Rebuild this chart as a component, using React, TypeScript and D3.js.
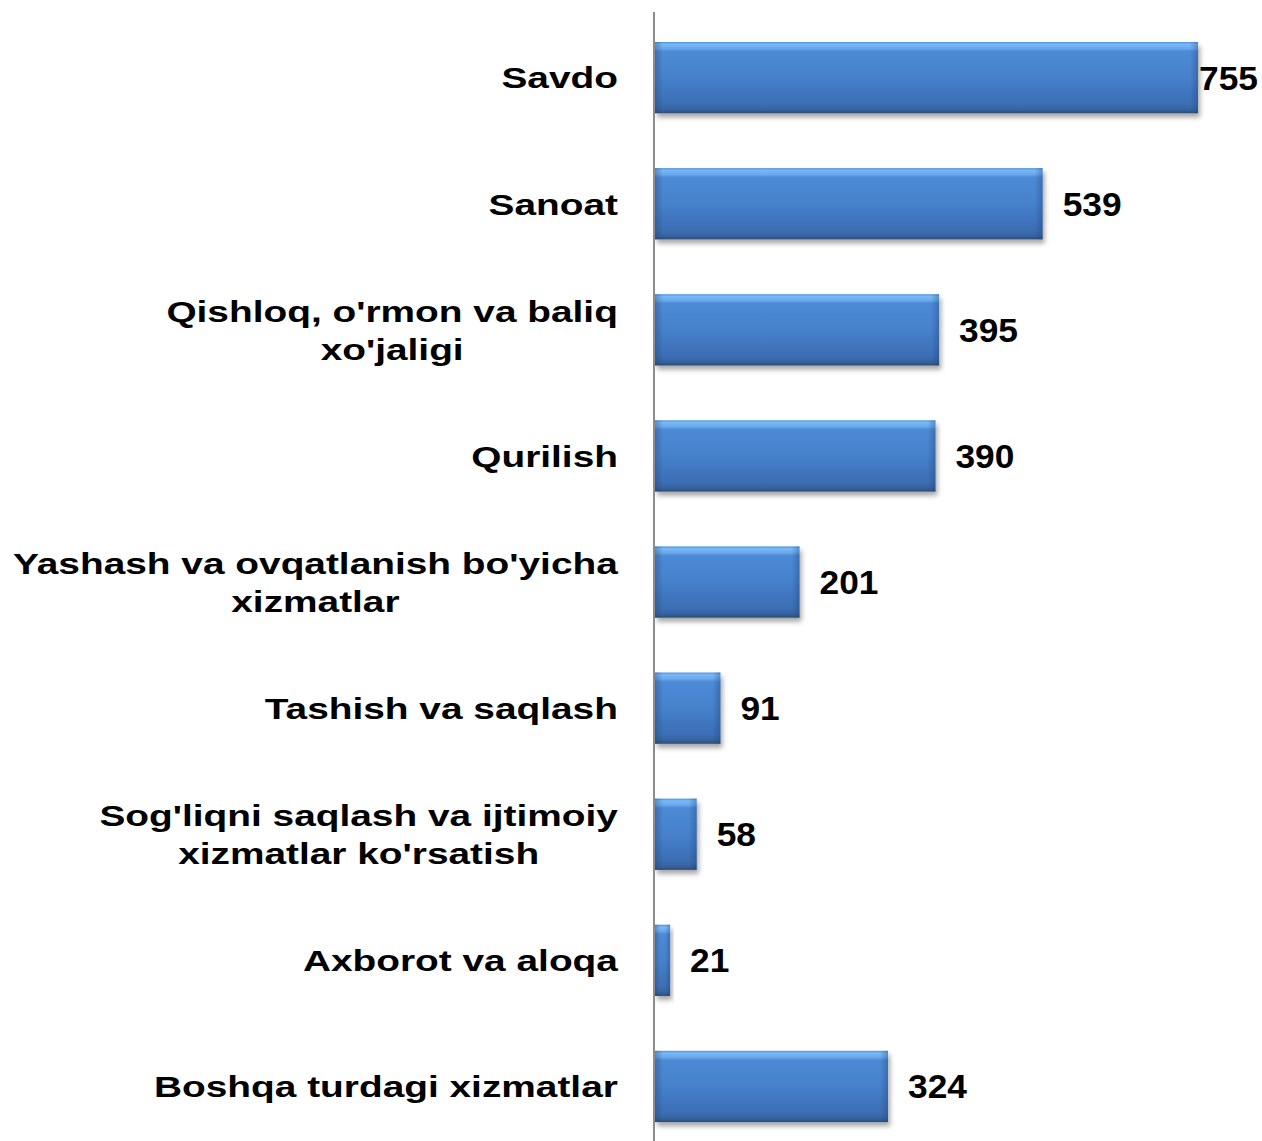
import React, { useEffect, useRef } from 'react';
import * as d3 from 'd3';

const categories = [
  ["Savdo"],
  ["Sanoat"],
  ["Qishloq, o'rmon va baliq", "xo'jaligi"],
  ["Qurilish"],
  ["Yashash va ovqatlanish bo'yicha", "xizmatlar"],
  ["Tashish va saqlash"],
  ["Sog'liqni saqlash va ijtimoiy", "xizmatlar ko'rsatish"],
  ["Axborot va aloqa"],
  ["Boshqa turdagi xizmatlar"],
];
const values = [755, 539, 395, 390, 201, 91, 58, 21, 324];

const W = 1262;
const H = 1141;
const axisX = 655;
const labelRight = 618;
const stretch = 1.295;
const numStretch = 1.07;

const App = () => {
  const ref = useRef<SVGSVGElement>(null);

  useEffect(() => {
    const svg = d3.select(ref.current);
    svg.selectAll('*').remove();

    const idx = values.map((_, i) => i);
    const y = d3.scaleBand<number>()
      .domain(idx)
      .range([14.6, 1149.5])
      .paddingInner(0.435)
      .paddingOuter(0.2175);
    const x = d3.scaleLinear().domain([0, d3.max(values)!]).range([axisX, 1198]);

    const defs = svg.append('defs');
    const grad = defs.append('linearGradient')
      .attr('id', 'barGrad').attr('x1', 0).attr('y1', 0).attr('x2', 0).attr('y2', 1);
    [
      [0, '#4f8fdc'], [0.03, '#79b9f6'], [0.09, '#6aa8ec'], [0.13, '#4d8ad6'],
      [0.5, '#4681cc'], [0.88, '#3b6db3'], [0.95, '#36639f'], [1, '#2c4c78'],
    ].forEach(([o, c]) => grad.append('stop').attr('offset', o as number).attr('stop-color', c as string));

    const edgeL = defs.append('linearGradient')
      .attr('id', 'edgeL').attr('x1', 0).attr('y1', 0).attr('x2', 1).attr('y2', 0);
    edgeL.append('stop').attr('offset', 0).attr('stop-color', '#1d3f6e').attr('stop-opacity', 0.35);
    edgeL.append('stop').attr('offset', 1).attr('stop-color', '#1d3f6e').attr('stop-opacity', 0);
    const edgeR = defs.append('linearGradient')
      .attr('id', 'edgeR').attr('x1', 0).attr('y1', 0).attr('x2', 1).attr('y2', 0);
    edgeR.append('stop').attr('offset', 0).attr('stop-color', '#1d3f6e').attr('stop-opacity', 0);
    edgeR.append('stop').attr('offset', 1).attr('stop-color', '#1d3f6e').attr('stop-opacity', 0.35);

    const f = defs.append('filter').attr('id', 'shadow')
      .attr('x', '-10%').attr('y', '-10%').attr('width', '130%').attr('height', '140%');
    f.append('feDropShadow').attr('dx', 2).attr('dy', 4).attr('stdDeviation', 2.5)
      .attr('flood-color', '#000').attr('flood-opacity', 0.35);

    const bars = svg.append('g');
    idx.forEach(i => {
      const x0 = x(0), x1 = x(values[i]);
      const top = y(i)!, bh = y.bandwidth();
      const g = bars.append('g');
      g.append('rect')
        .attr('x', x0).attr('y', top).attr('width', x1 - x0).attr('height', bh)
        .attr('fill', 'url(#barGrad)').attr('filter', 'url(#shadow)');
      const ew = Math.min(8, (x1 - x0) / 3);
      g.append('rect').attr('x', x0).attr('y', top).attr('width', ew).attr('height', bh)
        .attr('fill', 'url(#edgeL)');
      g.append('rect').attr('x', x1 - ew).attr('y', top).attr('width', ew).attr('height', bh)
        .attr('fill', 'url(#edgeR)');
    });

    // axis line
    svg.append('line')
      .attr('x1', axisX - 1).attr('x2', axisX - 1).attr('y1', 12).attr('y2', H)
      .attr('stroke', '#8c8c8c').attr('stroke-width', 2);

    // category labels (glyphs look horizontally stretched in the original)
    const lineGap = 38;
    idx.forEach(i => {
      const lines = categories[i];
      const cy = y(i)! + y.bandwidth() / 2;
      const g = svg.append('g');
      const inner = g.append('g');
      const texts = lines.map((ln, k) => inner.append('text')
        .attr('x', 0)
        .attr('y', (k - (lines.length - 1) / 2) * lineGap)
        .attr('dy', '0.36em')
        .attr('font-family', '"Liberation Sans", Arial, sans-serif')
        .attr('font-weight', 'bold')
        .attr('font-size', 30)
        .attr('fill', '#000')
        .attr('text-anchor', 'middle')
        .text(ln));
      const maxW = Math.max(...texts.map(s => (s.node() as SVGTextElement).getComputedTextLength()));
      g.attr('transform', `translate(${labelRight - (maxW * stretch) / 2},${cy})`);
      inner.attr('transform', `scale(${stretch},1)`);
    });

    // value labels
    idx.forEach(i => {
      const cy = y(i)! + y.bandwidth() / 2;
      const g = svg.append('g');
      const t = g.append('text')
        .attr('x', 0)
        .attr('y', 0)
        .attr('dy', '0.36em')
        .attr('font-family', '"Liberation Sans", Arial, sans-serif')
        .attr('font-weight', 'bold')
        .attr('font-size', 33)
        .attr('fill', '#000')
        .text(values[i]);
      const w = (t.node() as SVGTextElement).getComputedTextLength() * numStretch;
      const tx = Math.min(x(values[i]) + 20, W - 4 - w);
      g.attr('transform', `translate(${tx},${cy}) scale(${numStretch},1)`);
    });
  }, []);

  return (
    <svg ref={ref} width={W} height={H}
      style={{ display: 'block', position: 'absolute', left: 0, top: 0, background: '#fff' }} />
  );
};

export default App;
